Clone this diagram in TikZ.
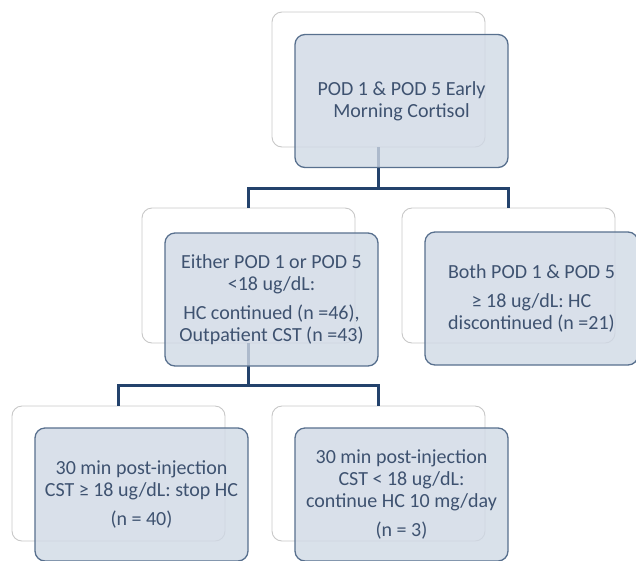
\documentclass[tikz,border=0pt]{standalone}
\usepackage{fontspec}
\setmainfont{Carlito}
\usetikzlibrary{positioning}

\definecolor{boxfill}{RGB}{208,217,229}
\definecolor{boxline}{RGB}{88,112,142}
\definecolor{backline}{RGB}{200,200,200}
\definecolor{linkcol}{RGB}{35,66,108}
\definecolor{textcol}{RGB}{62,82,112}

\begin{document}
\begin{tikzpicture}[
        x=1pt,
        y=1pt,
        every node/.style={font=\fontsize{20}{22}\selectfont, text=textcol, align=center},
        backbox/.style={draw=backline, line width=0.9pt, fill=white, rounded corners=10pt,
            minimum width=213pt, minimum height=135pt, inner sep=0pt},
        frontbox/.style={draw=boxline, line width=1.3pt, fill=boxfill, fill opacity=0.8,
            text opacity=1, rounded corners=10pt, minimum width=213pt, minimum height=133pt, inner sep=0pt},
        link/.style={draw=linkcol, line width=2.2pt}
    ]
    \clip (0,0) rectangle (636,-560);
    \useasboundingbox (0,0) rectangle (636,-560);

    % back cards
    \node[backbox] (topB) at (378.5,-79.5) {};
    \node[backbox] (midB) at (248.5,-275.5) {};
    \node[backbox] (rightB) at (508.5,-275.5) {};
    \node[backbox] (leftlowB) at (118.5,-473.5) {};
    \node[backbox] (rightlowB) at (378.5,-473.5) {};

    % tree
    \draw[link] (topB.south) -- ++(0,-41) -| (midB.north);
    \draw[link] (topB.south) -- ++(0,-41) -| (rightB.north);
    \draw[link] (midB.south) -- ++(0,-42) -| (leftlowB.north);
    \draw[link] (midB.south) -- ++(0,-42) -| (rightlowB.north);

    % front cards
    \node[frontbox] (top) at (401.5,-101) {POD 1 \& POD 5 Early\\Morning Cortisol};
    \node[frontbox] (mid) at (271.5,-299.5) {Either POD 1 or POD 5\\{<}18 ug/dL:\\[7pt]HC continued (n =46),\\Outpatient CST (n =43)};
    \node[frontbox] (right) at (531.5,-298.5) {Both POD 1 \& POD 5\\[7pt]≥ 18 ug/dL: HC\\discontinued (n =21)};
    \node[frontbox] (leftlow) at (141.5,-494.5) {30 min post-injection\\CST ≥ 18 ug/dL: stop HC\\[7pt](n = 40)};
    \node[frontbox] (rightlow) at (401.5,-494.5) {30 min post-injection\\CST {<} 18 ug/dL:\\continue HC 10 mg/day\\[7pt](n = 3)};
\end{tikzpicture}
\end{document}
